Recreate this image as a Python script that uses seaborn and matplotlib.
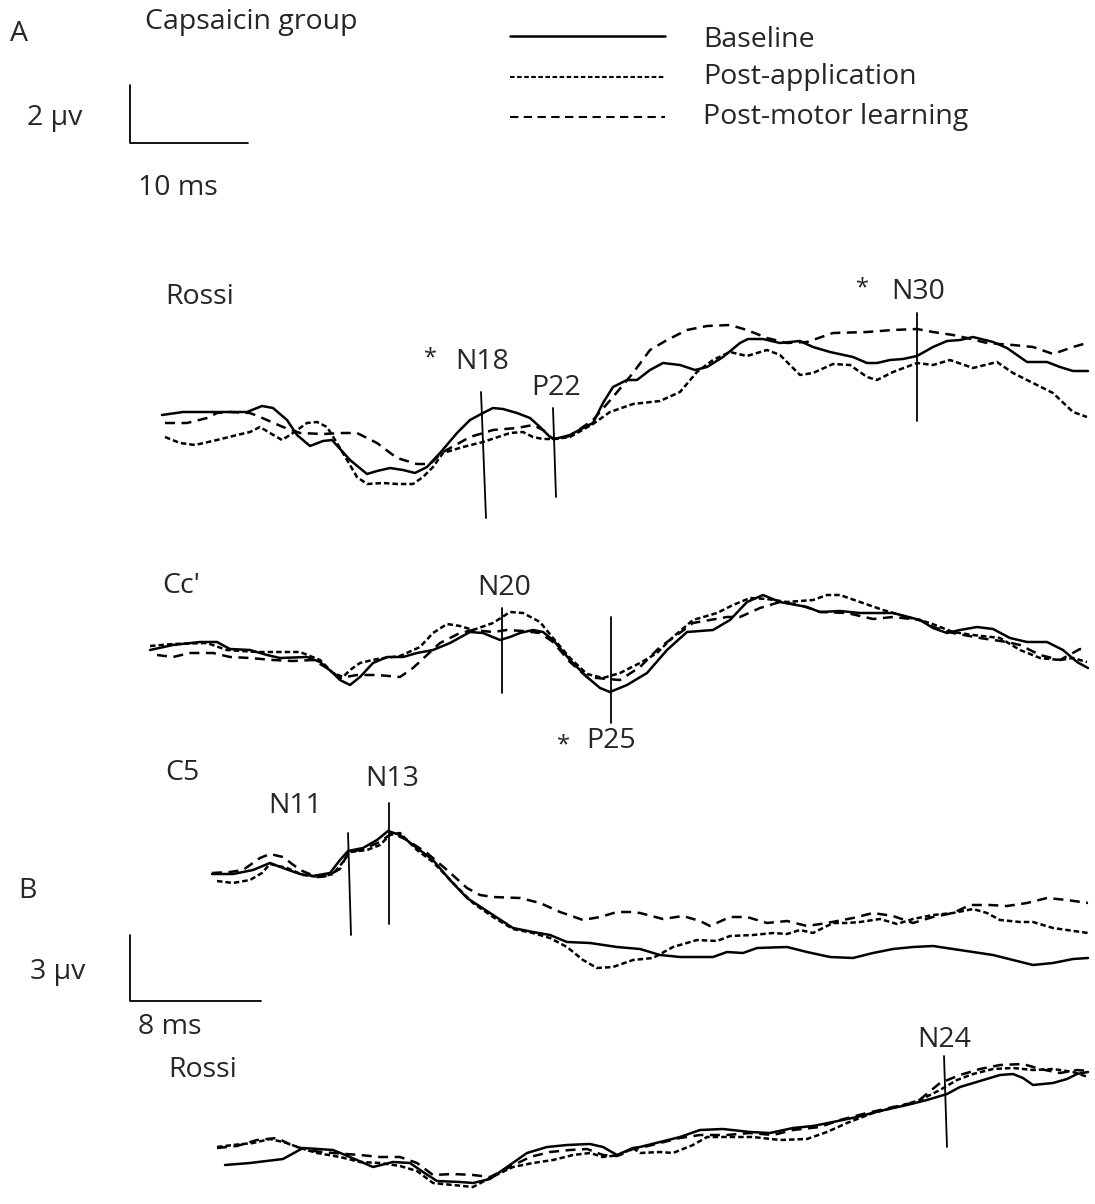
import matplotlib
matplotlib.use("Agg")
import matplotlib.pyplot as plt
import seaborn as sns
import pandas as pd

# ---------------- data (traces, page coordinates) ----------------
# Panel A - Rossi
rossiA_baseline = [(162,415),(183,412),(217,412),(247,412),(262,406),(273,408),(287,420),(297,435),(310,446),(323,441),(332,440),
                   (350,460),(367,474),(377,471),(390,468),(403,470),(415,473),(427,467),(440,453),(457,433),(470,420),(483,413),
                   (493,408),(503,409),(517,413),(530,418),(540,427),(550,437),(555,439),(570,435),(583,428),(593,423),(603,403),
                   (613,387),(627,380),(637,380),(650,370),(663,363),(680,365),(695,370),(707,367),(723,357),(740,343),(748,339),
                   (763,339),(780,343),(800,341),(813,347),(830,352),(853,357),(867,363),(877,363),(890,360),(903,359),(917,356),
                   (933,347),(947,341),(960,340),(973,337),(993,342),(1007,348),(1027,362),(1047,362),(1060,367),(1073,371),(1088,371)]
rossiA_postapp = [(165,437),(180,443),(195,445),(217,440),(237,435),(250,432),(260,427),(270,433),(282,440),(293,433),(307,423),
                  (317,422),(327,427),(337,443),(347,460),(357,477),(367,484),(383,483),(397,484),(413,484),(423,477),(433,467),
                  (443,453),(463,447),(483,442),(510,433),(523,432),(533,437),(543,439),(555,439),(570,437),(593,424),(610,412),
                  (633,404),(660,401),(680,392),(697,372),(713,360),(730,352),(747,356),(767,350),(780,355),(800,375),(813,373),
                  (833,364),(850,365),(867,377),(877,380),(893,372),(917,363),(933,365),(950,360),(973,368),(997,362),(1013,373),
                  (1033,383),(1053,393),(1073,412),(1087,417)]
rossiA_postmotor = [(165,423),(187,423),(207,418),(217,413),(230,412),(250,413),(260,417),(283,427),(300,433),(323,434),(343,433),
                    (357,433),(377,443),(397,458),(417,464),(430,464),(443,452),(470,437),(493,430),(517,428),(533,425),(543,430),
                    (553,439),(570,436),(593,420),(613,397),(633,373),(650,350),(667,340),(687,330),(707,326),(730,325),(747,330),
                    (767,338),(787,343),(807,342),(833,333),(867,332),(893,330),(917,329),(933,332),(953,335),(967,338),(987,343),
                    (1013,345),(1033,347),(1053,354),(1073,347),(1087,343)]

# Panel A - Cc'
cc_baseline = [(150,650),(173,645),(200,642),(217,642),(230,649),(250,650),(267,655),(280,658),(307,657),(320,662),(333,673),
               (340,680),(350,685),(360,677),(373,663),(387,657),(403,657),(417,653),(433,650),(450,643),(470,632),(483,633),
               (500,640),(510,637),(520,633),(533,630),(543,632),(553,640),(570,660),(587,677),(600,688),(610,692),(627,685),
               (647,673),(667,650),(687,632),(713,630),(730,620),(747,602),(763,595),(780,602),(807,607),(820,612),(840,611),
               (860,613),(893,613),(920,620),(933,628),(947,633),(960,630),(977,627),(993,629),(1010,638),(1027,642),(1047,642),
               (1063,650),(1077,662),(1088,668)]
cc_postapp = [(150,646),(173,644),(207,643),(227,650),(257,652),(300,652),(320,660),(333,673),(343,677),(350,670),(360,663),
              (377,659),(400,656),(420,647),(433,633),(447,624),(460,626),(473,630),(493,623),(510,612),(523,613),(540,622),
              (553,638),(570,658),(587,674),(603,678),(620,673),(640,663),(657,653),(673,637),(693,620),(717,613),(733,605),
              (750,598),(767,599),(787,602),(813,600),(827,595),(840,595),(860,602),(883,610),(907,617),(930,623),(953,632),
              (973,635),(1000,638),(1020,650),(1040,658),(1060,660),(1073,658),(1087,662)]
cc_postmotor = [(157,655),(173,657),(190,653),(213,653),(230,657),(250,658),(273,660),(293,661),(313,660),(327,668),(340,678),
                (357,675),(377,675),(400,677),(413,668),(427,655),(440,643),(460,633),(473,630),(493,632),(507,630),(523,631),
                (540,633),(553,642),(570,662),(587,677),(607,679),(620,680),(640,667),(660,647),(677,635),(693,623),(710,620),
                (727,617),(740,617),(760,608),(780,602),(800,605),(820,612),(847,613),(873,619),(893,617),(920,620),(933,627),
                (953,633),(980,638),(1007,642),(1020,645),(1040,655),(1060,660),(1080,649),(1087,650)]

# Panel B - C5
c5_baseline = [(212,874),(233,874),(253,870),(270,863),(283,868),(300,874),(313,876),(330,873),(340,860),(348,851),(363,848),
               (377,840),(388,831),(400,835),(417,848),(433,860),(450,880),(467,898),(490,913),(513,928),(533,932),(550,935),
               (567,942),(590,943),(617,947),(640,949),(660,955),(680,957),(713,957),(727,952),(743,953),(757,948),(787,947),
               (807,952),(830,957),(853,958),(873,953),(893,949),(913,947),(933,946),(953,949),(973,952),(993,955),(1013,960),
               (1033,965),(1053,963),(1073,959),(1088,958)]
c5_postapp = [(217,881),(233,883),(250,880),(262,873),(270,864),(287,868),(303,875),(320,877),(333,874),(343,862),(350,852),
              (367,850),(380,845),(390,835),(400,833),(417,850),(433,862),(453,883),(473,903),(493,917),(513,929),(533,933),
              (550,938),(567,947),(583,960),(597,968),(613,967),(633,960),(653,958),(673,947),(697,940),(717,941),(730,936),
              (753,935),(773,933),(787,934),(800,930),(813,933),(833,923),(847,923),(860,922),(880,919),(897,924),(913,919),
              (933,915),(953,913),(973,909),(987,913),(1000,920),(1020,922),(1033,922),(1053,928),(1088,933)]
c5_postmotor = [(212,873),(230,872),(243,870),(260,858),(270,854),(283,857),(300,870),(317,877),(327,876),(340,869),(348,853),
                (363,849),(380,842),(392,833),(407,840),(427,853),(447,870),(467,888),(480,895),(493,897),(520,898),(540,903),
                (560,912),(583,920),(600,917),(617,912),(633,912),(640,913),(663,919),(683,916),(700,921),(710,926),(730,917),
                (747,917),(767,923),(787,921),(807,926),(827,923),(853,918),(873,913),(893,916),(913,923),(933,917),(953,913),
                (970,905),(990,905),(1007,906),(1027,903),(1047,898),(1067,900),(1088,903)]

# Panel B - Rossi
rossiB_baseline = [(225,1165),(250,1163),(283,1159),(303,1148),(333,1150),(350,1157),(373,1167),(393,1162),(410,1163),(423,1172),
                   (437,1181),(460,1182),(473,1183),(490,1179),(507,1167),(527,1153),(547,1147),(567,1145),(590,1144),(603,1147),
                   (617,1155),(633,1148),(640,1147),(660,1142),(680,1137),(700,1130),(723,1129),(750,1132),(770,1133),(793,1128),
                   (813,1126),(833,1122),(857,1117),(880,1111),(907,1105),(927,1100),(947,1094),(960,1087),(980,1081),(1000,1075),
                   (1013,1074),(1023,1078),(1033,1085),(1053,1083),(1067,1079),(1077,1074),(1088,1072)]
rossiB_postapp = [(217,1147),(233,1145),(253,1143),(270,1139),(287,1143),(300,1148),(317,1153),(340,1157),(360,1162),(380,1163),
                  (400,1166),(417,1171),(433,1183),(453,1185),(473,1187),(490,1178),(513,1167),(533,1163),(553,1160),(573,1155),
                  (590,1153),(603,1157),(620,1155),(633,1148),(640,1153),(660,1152),(673,1153),(693,1145),(707,1137),(727,1137),
                  (753,1137),(780,1140),(807,1139),(827,1132),(847,1123),(873,1113),(900,1106),(920,1100),(940,1090),(957,1080),
                  (973,1074),(993,1069),(1013,1068),(1033,1070),(1053,1069),(1073,1072),(1088,1077)]
rossiB_postmotor = [(217,1148),(237,1146),(257,1140),(277,1138),(293,1146),(313,1151),(333,1153),(360,1155),(380,1157),(400,1157),
                    (417,1163),(433,1175),(453,1174),(473,1175),(490,1177),(510,1167),(530,1157),(550,1152),(570,1150),(587,1149),
                    (603,1155),(617,1156),(633,1149),(640,1148),(660,1143),(680,1138),(700,1135),(727,1135),(750,1133),(773,1135),
                    (793,1130),(820,1127),(840,1120),(867,1113),(893,1107),(917,1102),(940,1083),(960,1075),(980,1069),(1000,1065),
                    (1023,1064),(1040,1069),(1060,1073),(1077,1070),(1088,1071)]

conditions = ["Baseline", "Post-application", "Post-motor learning"]
traces = {
    "RossiA": [rossiA_baseline, rossiA_postapp, rossiA_postmotor],
    "Cc": [cc_baseline, cc_postapp, cc_postmotor],
    "C5": [c5_baseline, c5_postapp, c5_postmotor],
    "RossiB": [rossiB_baseline, rossiB_postapp, rossiB_postmotor],
}

# peak markers: line top, line bottom
peak_labels = ["N18", "P22", "N30", "N20", "P25", "N11", "N13", "N24"]
peak_lines = [((481,392),(486,518)), ((553,408),(556,497)), ((917,313),(917,421)),
              ((502,608),(502,693)), ((611,617),(611,723)),
              ((348,833),(351,935)), ((389,803),(389,924)), ((944,1056),(947,1147))]

# ---------------- drawing ----------------
sns.set_theme(style="white")
plt.rcParams["font.family"] = ["Open Sans", "DejaVu Sans"]

rows = []
for tname, tr in traces.items():
    for cond, pts in zip(conditions, tr):
        for x, y in pts:
            rows.append({"x": x, "y": y, "condition": cond, "trace": tname + cond})
df = pd.DataFrame(rows)

fig = plt.figure(figsize=(10.95, 12.04), dpi=100)
ax = fig.add_axes([0, 0, 1, 1])

dash_map = {"Baseline": "", "Post-application": (2.2, 1.2), "Post-motor learning": (4.0, 2.6)}
sns.lineplot(data=df, x="x", y="y", style="condition", units="trace", estimator=None, sort=False,
             dashes=dash_map, color="black", linewidth=1.8, legend=False, ax=ax)

ax.set_xlim(0, 1095)
ax.set_ylim(1204, 0)
ax.axis("off")

for (p0, p1) in peak_lines:
    ax.plot([p0[0], p1[0]], [p0[1], p1[1]], color="black", lw=1.3)

tc = "#262626"
fs = 20.5
def txt(x, y, s, ha="left", size=fs):
    ax.text(x, y, s, ha=ha, va="center", fontsize=size, color=tc)

txt(10, 34, "A")
txt(145, 22, "Capsaicin group")
txt(27, 118, "2 µv")
txt(138, 188, "10 ms")
txt(165, 297, "Rossi")
txt(424, 358, "*", size=17)
txt(455, 362, "N18")
txt(531, 388, "P22")
txt(856, 288, "*", size=17)
txt(891, 292, "N30")
txt(162, 586, "Cc'")
txt(477, 588, "N20")
txt(557, 745, "*", size=17)
txt(586, 741, "P25")
txt(165, 773, "C5")
txt(268, 806, "N11")
txt(365, 779, "N13")
txt(18, 891, "B")
txt(30, 972, "3 µv")
txt(138, 1027, "8 ms")
txt(168, 1070, "Rossi")
txt(917, 1040, "N24")

# scale bars
ax.plot([130, 130, 248], [85, 143, 143], color="black", lw=1.3)
ax.plot([130, 130, 261], [935, 1001, 1001], color="black", lw=1.3)

# legend
leg_y = [36, 77, 117]
for cond, yy in zip(conditions, leg_y):
    ds = dash_map[cond]
    ls = "-" if ds == "" else (0, ds)
    ax.plot([510, 665], [yy, yy], color="black", lw=1.8 if cond == "Baseline" else 1.5, linestyle=ls)
    txt(703, yy + 4 if cond == "Baseline" else yy, cond)

fig.savefig("out.png", dpi=100)
